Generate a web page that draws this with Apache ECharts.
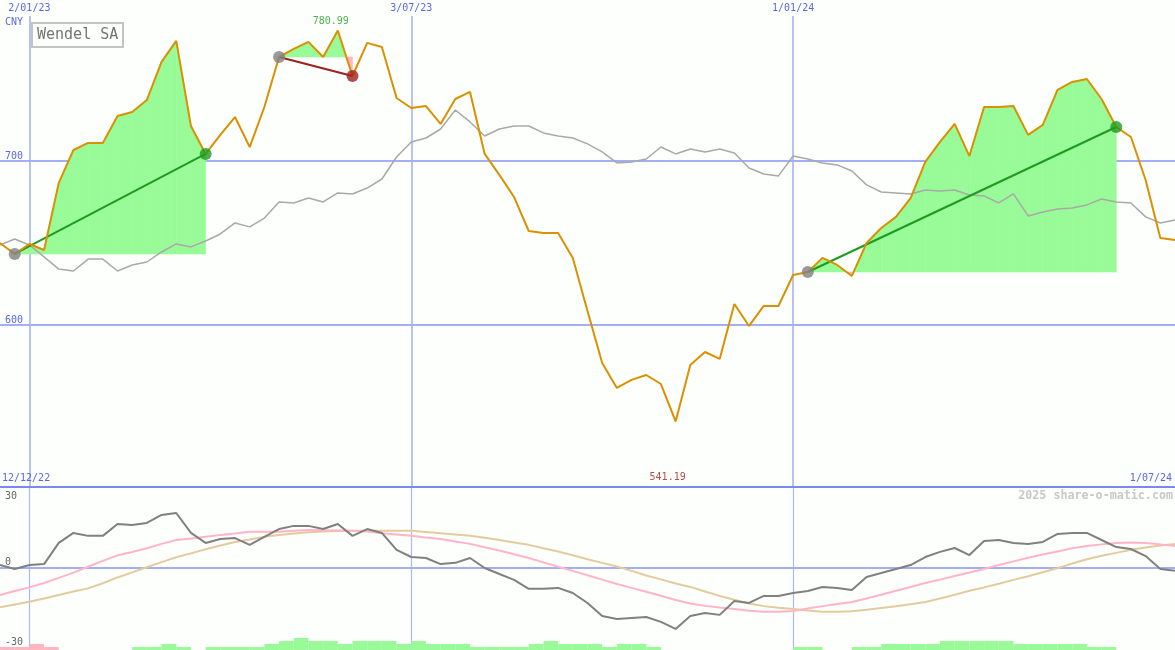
<!DOCTYPE html>
<html><head><meta charset="utf-8">
<script src="https://cdn.jsdelivr.net/npm/echarts@6/dist/echarts.min.js"></script>
<style>html,body{margin:0;padding:0;background:#fcfffc}#c{width:1175px;height:650px}</style>
</head><body><div id="c"></div>
<script>
// ---- data ----
const weekCount = 81; // weekly closes from 19/12/22 to 1/07/24
const dates = [];
for (let i = 0; i < weekCount; i++) {
  const d = new Date(Date.UTC(2022, 11, 19 + 7 * i));
  dates.push(d.getUTCDate() + '/' + String(d.getUTCMonth() + 1).padStart(2, '0') + '/' + String(d.getUTCFullYear() % 100).padStart(2, '0'));
}
const tickDates = ['2/01/23', '3/07/23', '1/01/24'];
const priceTicks = [600, 700];
const oscTicks = [-30, 0, 30];

const price = [650.0, 643.3, 649.4, 645.7, 686.6, 706.7, 711.0, 711.0, 727.4, 729.9,
  737.2, 760.4, 773.2, 721.3, 704.3, 715.9, 726.8, 708.5, 732.9, 763.4,
  768.3, 772.6, 763.4, 779.5, 751.8, 772.0, 769.5, 738.4, 732.3, 733.5,
  722.6, 737.8, 742.1, 704.3, 691.5, 678.0, 657.3, 656.1, 656.1, 640.9,
  608.5, 576.8, 561.6, 566.5, 569.5, 564.0, 541.19, 575.6, 583.5, 579.3,
  612.8, 599.4, 611.6, 611.6, 630.5, 632.3, 640.9, 636.6, 629.9, 650.0,
  659.1, 665.9, 677.4, 699.4, 711.6, 722.6, 703.0, 732.9, 732.9, 733.5,
  715.9, 722.0, 743.3, 748.2, 750.0, 737.8, 720.7, 714.6, 688.4, 653.0, 651.8];

const compare = [648.8, 652.4, 648.8, 641.5, 634.1, 632.9, 640.2, 640.2, 632.9, 636.6,
  638.4, 644.5, 649.4, 647.6, 651.2, 655.5, 662.2, 659.8, 665.2, 675.0,
  674.4, 677.4, 675.0, 680.5, 679.9, 683.5, 689.0, 702.4, 711.6, 714.0,
  719.5, 731.1, 723.8, 715.2, 719.5, 721.3, 721.3, 717.1, 715.2, 714.0,
  710.4, 705.5, 698.8, 699.4, 701.2, 708.5, 704.3, 707.3, 705.5, 707.3,
  704.9, 695.7, 692.1, 690.9, 703.0, 701.2, 698.8, 697.6, 693.9, 685.4,
  681.1, 680.5, 679.9, 682.3, 681.7, 682.3, 679.3, 678.7, 674.4, 679.9,
  666.5, 668.9, 670.7, 671.3, 673.2, 676.8, 675.0, 674.4, 665.9, 662.2, 664.0];

const maxLabel = 780.99, maxIndex = 23;
const minLabel = 541.19, minIndex = 46;

const tradeEntry = [1, 19, 55];
const tradeExit = [14, 24, 76];

const oscillator = [1.0, -0.6, 1.0, 1.4, 10.1, 14.2, 13.0, 13.0, 17.9, 17.5,
  18.3, 21.6, 22.4, 14.2, 10.1, 11.7, 12.1, 9.3, 12.6, 15.8,
  17.1, 17.1, 15.8, 17.9, 13.0, 15.8, 14.2, 7.2, 4.3, 3.9,
  1.4, 1.9, 3.9, -0.2, -2.7, -5.1, -8.8, -8.8, -8.4, -10.5,
  -14.6, -20.0, -21.2, -20.8, -20.4, -22.4, -25.3, -20.0, -18.7, -19.5,
  -13.8, -14.6, -11.7, -11.7, -10.5, -9.7, -8.0, -8.4, -9.3, -3.9,
  -2.3, -0.6, 1.0, 4.3, 6.4, 8.0, 5.1, 10.9, 11.3, 10.1,
  9.7, 10.5, 13.8, 14.2, 14.2, 11.3, 8.4, 7.6, 4.7, -0.6, -1.4];

const avgFast = [-11.3, -9.7, -8.2, -6.4, -4.3, -2.1, 0.3, 2.7, 5.0, 6.4,
  7.9, 9.7, 11.3, 11.9, 12.6, 13.4, 14.0, 14.7, 14.7, 14.7,
  15.1, 15.4, 15.3, 15.2, 15.1, 14.8, 14.1, 13.6, 13.0, 12.3,
  11.7, 10.7, 9.7, 8.3, 7.0, 5.4, 3.9, 2.1, 0.3, -1.4,
  -3.2, -5.0, -6.8, -8.4, -10.0, -11.6, -13.4, -14.8, -15.8, -16.5,
  -17.1, -17.8, -18.2, -18.2, -17.9, -16.9, -15.9, -15.0, -14.2, -12.8,
  -11.2, -9.6, -8.0, -6.4, -5.0, -3.5, -2.1, -0.6, 1.0, 2.5,
  4.0, 5.3, 6.6, 7.9, 8.8, 9.5, 10.1, 10.3, 10.1, 9.5, 8.8];

const avgSlow = [-16.4, -15.2, -14.1, -12.8, -11.3, -9.9, -8.6, -6.5, -4.1, -2.0,
  0.1, 2.2, 4.2, 5.8, 7.5, 9.0, 10.5, 11.5, 12.6, 13.4,
  14.0, 14.5, 14.8, 15.0, 15.1, 15.1, 15.1, 15.1, 15.1, 14.6,
  14.1, 13.6, 13.0, 12.2, 11.3, 10.3, 9.3, 7.9, 6.6, 5.0,
  3.4, 1.9, 0.4, -1.4, -3.3, -4.9, -6.6, -8.0, -9.9, -11.7,
  -13.3, -14.8, -15.9, -16.6, -17.1, -17.7, -18.2, -18.2, -18.0, -17.4,
  -16.7, -16.0, -15.1, -14.2, -12.8, -11.2, -9.6, -8.2, -6.7, -5.1,
  -3.6, -2.0, -0.3, 1.6, 3.4, 4.8, 6.0, 7.3, 8.2, 9.0, 9.7];

// weekly signal strength blocks (negative = pink)
const signal = [-1, -1, -2, -1, 0, 0, 0, 0, 0, 1,
  1, 2, 1, 0, 1, 1, 1, 1, 2, 3,
  4, 3, 3, 2, 3, 3, 3, 2, 3, 2,
  2, 2, 1, 1, 1, 1, 2, 3, 2, 2,
  2, 1, 2, 2, 1, 0, 0, 0, 0, 0,
  0, 0, 0, 0, 1, 1, 0, 0, 1, 1,
  2, 2, 2, 2, 3, 3, 3, 3, 3, 2,
  2, 2, 2, 2, 1, 1, 0, 0, 0, 0];

// ---- style ----
const MONO = 'DejaVu Sans Mono';
const BLUE_TXT = '#5b67e8';
const GRID_C = '#a4aef2';
const GREEN = '#98fb98', PINK = '#ffb6c1';
const WIN = '#1f9a1f', LOSS = '#a01f1f';

const tickFn = (idx, val) => tickDates.indexOf(val) >= 0;

// trade fill segments: [x0, y0, x1, y1, entryPrice]
const fillSegments = [];
tradeEntry.forEach((e, k) => {
  const x = tradeExit[k];
  const b = price[e];
  const pts = [];
  for (let i = e; i <= x; i++) {
    if (i > e) {
      const dp = price[i - 1] - b, d = price[i] - b;
      if ((dp > 0 && d < 0) || (dp < 0 && d > 0)) {
        const t = dp / (dp - d);
        pts.push([i - 1 + t, b]);
      }
    }
    pts.push([i, price[i]]);
  }
  for (let j = 1; j < pts.length; j++) {
    fillSegments.push([pts[j - 1][0], pts[j - 1][1], pts[j][0], pts[j][1], b]);
  }
});

const series = [];

// horizontal price grid lines (below the fills)
series.push({
  type: 'line', xAxisIndex: 0, yAxisIndex: 0, data: [], z: 1, silent: true,
  markLine: {
    z: 1, silent: true, symbol: 'none', animation: false,
    lineStyle: { color: GRID_C, width: 2, type: 'solid' },
    label: { position: 'insideStartTop', distance: [5, 0], color: BLUE_TXT, fontFamily: MONO, fontSize: 10,
      formatter: p => String(p.value) },
    data: priceTicks.map(v => ({ yAxis: v }))
  }
});

series.push({
  type: 'custom', xAxisIndex: 1, yAxisIndex: 0, z: 2, silent: true,
  encode: { x: [0, 2], y: [1, 3, 4] },
  data: fillSegments,
  renderItem: (params, api) => {
    const x0 = api.value(0), y0 = api.value(1), x1 = api.value(2), y1 = api.value(3), b = api.value(4);
    const up = (y0 + y1) / 2 >= b;
    const c = up ? GREEN : PINK;
    return { type: 'polygon',
      shape: { points: [api.coord([x0, b]), api.coord([x0, y0]), api.coord([x1, y1]), api.coord([x1, b])] },
      style: { fill: c, stroke: c, lineWidth: 0.6 } };
  }
});

// comparison line
series.push({
  type: 'line', xAxisIndex: 0, yAxisIndex: 0, data: compare, symbol: 'none', z: 3,
  lineStyle: { color: '#a9a9a9', width: 1.5 }
});

// trade connecting lines
tradeEntry.forEach((e, k) => {
  const x = tradeExit[k];
  series.push({ type: 'line', xAxisIndex: 1, yAxisIndex: 0, symbol: 'none', z: 4, silent: true,
    lineStyle: { color: price[x] >= price[e] ? WIN : LOSS, width: 2 },
    data: [[e, price[e]], [x, price[x]]] });
});

// price line
series.push({ type: 'line', xAxisIndex: 0, yAxisIndex: 0, data: price, symbol: 'none', z: 5,
  lineStyle: { color: '#da9000', width: 2 } });

// trade markers
series.push({ type: 'scatter', xAxisIndex: 1, yAxisIndex: 0, symbolSize: 12, z: 8, silent: true,
  data: tradeEntry.map(e => ({ value: [e, price[e]], itemStyle: { color: '#808080' } }))
    .concat(tradeExit.map((x, k) => ({ value: [x, price[x]], itemStyle: { color: price[x] >= price[tradeEntry[k]] ? WIN : LOSS } })))
});

// extreme labels
series.push({ type: 'scatter', xAxisIndex: 1, yAxisIndex: 0, symbolSize: 0, z: 9, silent: true,
  data: [
    { value: [maxIndex, maxLabel], label: { show: true, position: 'top', distance: 2, offset: [-7, 0], color: '#22a022',
      fontFamily: MONO, fontSize: 10, formatter: p => p.value[1].toFixed(2) } },
    { value: [minIndex, minLabel], label: { show: true, position: 'bottom', distance: 51, offset: [-8, 0], color: '#a01f1f',
      fontFamily: MONO, fontSize: 10, formatter: p => p.value[1].toFixed(2) } }
  ] });

// lower panel
series.push({ type: 'line', xAxisIndex: 2, yAxisIndex: 1, data: avgSlow, symbol: 'none', z: 3,
  lineStyle: { color: '#e3cb9d', width: 2 } });
series.push({ type: 'line', xAxisIndex: 2, yAxisIndex: 1, data: avgFast, symbol: 'none', z: 3,
  lineStyle: { color: '#ffb4c8', width: 2 } });
series.push({ type: 'line', xAxisIndex: 2, yAxisIndex: 1, data: oscillator, symbol: 'none', z: 4,
  lineStyle: { color: '#808080', width: 2 },
  markLine: { z: 1, silent: true, symbol: 'none', animation: false, label: { show: false },
    lineStyle: { color: GRID_C, width: 2, type: 'solid' }, data: [{ yAxis: 0 }] } });

series.push({ type: 'bar', xAxisIndex: 3, yAxisIndex: 2, barWidth: '100%', barCategoryGap: '0%', silent: true, z: 2,
  data: signal.map(v => ({ value: Math.abs(v), itemStyle: { color: v < 0 ? PINK : GREEN } })) });

const plainText = (text, pos, style) => Object.assign({ text, padding: 0,
  textStyle: Object.assign({ fontFamily: MONO, fontSize: 10, fontWeight: 'normal', color: BLUE_TXT }, style || {}) }, pos);

const option = {
  animation: false,
  backgroundColor: '#fcfffc',
  title: [
    { text: 'Wendel SA', left: 32, top: 23, borderColor: '#c4c4c4', borderWidth: 2, padding: [5, 5, 4, 5],
      textStyle: { fontFamily: MONO, fontSize: 15, fontWeight: 'normal', color: '#747474' } },
    plainText('CNY', { left: 5, top: 17 }),
    plainText('12/12/22', { left: 2, top: 473 }),
    plainText('1/07/24', { right: 3, top: 473 }),
    plainText('2025 share-o-matic.com', { right: 2, top: 490 }, { color: '#c8c8c8', fontWeight: 'bold', fontSize: 11.7 })
  ],
  grid: [
    { left: 0, right: 0, top: 16, height: 471 },
    { left: 0, right: 0, top: 487, height: 163 },
    { left: 0, right: 0, top: 638, height: 12 }
  ],
  xAxis: [
    { gridIndex: 0, type: 'category', data: dates, boundaryGap: false, position: 'top',
      axisLine: { show: false, onZero: false }, axisTick: { show: false },
      axisLabel: { interval: tickFn, margin: 3, color: BLUE_TXT, fontFamily: MONO, fontSize: 10 },
      splitLine: { show: true, interval: tickFn, lineStyle: { color: GRID_C, width: 1.5 } } },
    { gridIndex: 0, type: 'value', min: 0, max: weekCount - 1, show: false },
    { gridIndex: 1, type: 'category', data: dates, boundaryGap: false, position: 'top',
      axisLine: { show: true, onZero: false, lineStyle: { color: '#7b89ec', width: 2 } }, axisTick: { show: false },
      axisLabel: { show: false },
      splitLine: { show: true, interval: tickFn, lineStyle: { color: '#b0b8f4', width: 1.2 } } },
    { gridIndex: 2, type: 'category', data: signal.map((v, i) => i), boundaryGap: true, show: false }
  ],
  yAxis: [
    { gridIndex: 0, type: 'value', min: 501.2, max: 788.4, show: false, splitLine: { show: false } },
    { gridIndex: 1, type: 'value', min: -33.95, max: 33.1, splitLine: { show: false },
      axisLine: { show: false }, axisTick: { show: false },
      axisLabel: { inside: true, customValues: oscTicks, margin: 5, color: '#666666', fontFamily: MONO, fontSize: 10,
        formatter: v => (v === 0 ? '{z|0}' : '{n|' + v + '}'),
        rich: { z: { padding: [0, 0, 11, 0], color: '#666666', fontFamily: MONO, fontSize: 10 },
                n: { padding: [4, 0, 0, 0], color: '#666666', fontFamily: MONO, fontSize: 10 } } } },
    { gridIndex: 2, type: 'value', min: 0, max: 4, show: false, splitLine: { show: false } }
  ],
  series
};

echarts.init(document.getElementById('c'), null, { renderer: 'canvas' }).setOption(option);
</script>
</body></html>
